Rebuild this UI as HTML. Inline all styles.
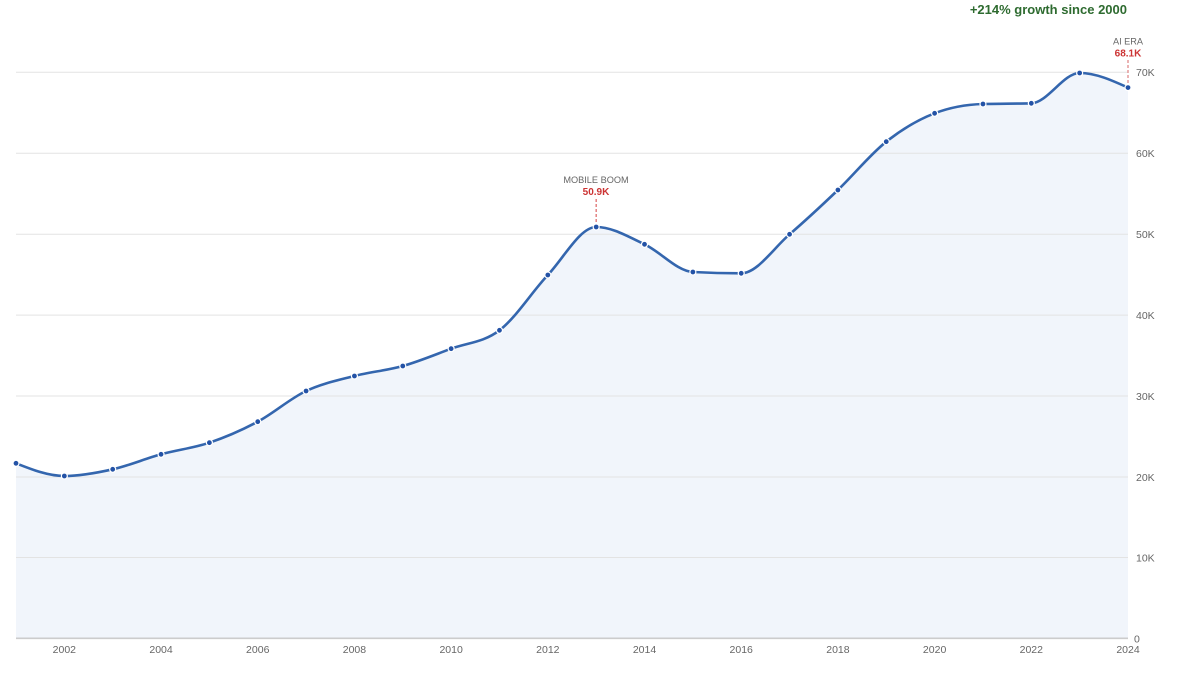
<!DOCTYPE html>
<html>
<head>
<meta charset="utf-8">
<style>
  html,body{margin:0;padding:0;background:#fff;}
  svg{display:block;}
  text{font-family:"Liberation Sans",Arial,sans-serif;}
</style>
</head>
<body>
<svg width="1200" height="675" viewBox="0 0 1200 675" xmlns="http://www.w3.org/2000/svg">
  <!-- area -->
  <path fill="#f1f5fb" d="M16,463.3 C32.12,469.65 48.23,476.0 64.35,476.0 C80.47,476.0 96.58,472.92 112.70,469.3 C128.82,465.68 144.92,458.73 161.04,454.3 C177.16,449.87 193.27,448.13 209.39,442.7 C225.51,437.27 241.62,430.32 257.74,421.7 C273.86,413.08 289.97,398.62 306.09,391.0 C322.21,383.38 338.32,380.17 354.44,376.0 C370.56,371.83 386.66,370.55 402.78,366.0 C418.90,361.45 435.01,354.65 451.13,348.7 C467.25,342.75 483.36,342.57 499.48,330.3 C515.60,318.03 531.71,292.22 547.83,275.0 C563.95,257.78 580.06,227.0 596.18,227.0 C612.30,227.0 628.40,236.8 644.52,244.3 C660.64,251.8 676.75,271.13 692.87,272.0 C708.99,272.87 725.10,273.3 741.22,273.3 C757.34,273.3 773.45,248.18 789.57,234.3 C805.69,220.42 821.80,205.43 837.92,190.0 C854.04,174.57 870.14,154.48 886.26,141.7 C902.38,128.92 918.49,119.5 934.61,113.3 C950.73,107.1 966.84,104.47 982.96,104.0 C999.08,103.53 1015.19,103.77 1031.31,103.3 C1047.43,102.83 1063.53,73.0 1079.65,73.0 C1095.77,73.0 1111.88,80.3 1128,87.6 L1128,638 L16,638 Z"/>

  <!-- gridlines -->
  <g stroke="#e3e3e3" stroke-width="1">
    <line x1="16" x2="1128" y1="72.3" y2="72.3"/>
    <line x1="16" x2="1128" y1="153.3" y2="153.3"/>
    <line x1="16" x2="1128" y1="234.2" y2="234.2"/>
    <line x1="16" x2="1128" y1="315.1" y2="315.1"/>
    <line x1="16" x2="1128" y1="396" y2="396"/>
    <line x1="16" x2="1128" y1="477" y2="477"/>
    <line x1="16" x2="1128" y1="557.5" y2="557.5"/>
  </g>
  <line x1="16" x2="1128" y1="638.3" y2="638.3" stroke="#cccccc" stroke-width="1.6"/>

  <!-- annotation dashed lines -->
  <line x1="596.18" x2="596.18" y1="199" y2="224" stroke="#e07070" stroke-width="1.3" stroke-dasharray="3,2"/>
  <line x1="1128" x2="1128" y1="60" y2="85" stroke="#e08a8a" stroke-width="1.3" stroke-dasharray="3,2"/>

  <!-- line -->
  <path fill="none" stroke="#3466ae" stroke-width="2.6" stroke-linejoin="round" stroke-linecap="round" d="M16,463.3 C32.12,469.65 48.23,476.0 64.35,476.0 C80.47,476.0 96.58,472.92 112.70,469.3 C128.82,465.68 144.92,458.73 161.04,454.3 C177.16,449.87 193.27,448.13 209.39,442.7 C225.51,437.27 241.62,430.32 257.74,421.7 C273.86,413.08 289.97,398.62 306.09,391.0 C322.21,383.38 338.32,380.17 354.44,376.0 C370.56,371.83 386.66,370.55 402.78,366.0 C418.90,361.45 435.01,354.65 451.13,348.7 C467.25,342.75 483.36,342.57 499.48,330.3 C515.60,318.03 531.71,292.22 547.83,275.0 C563.95,257.78 580.06,227.0 596.18,227.0 C612.30,227.0 628.40,236.8 644.52,244.3 C660.64,251.8 676.75,271.13 692.87,272.0 C708.99,272.87 725.10,273.3 741.22,273.3 C757.34,273.3 773.45,248.18 789.57,234.3 C805.69,220.42 821.80,205.43 837.92,190.0 C854.04,174.57 870.14,154.48 886.26,141.7 C902.38,128.92 918.49,119.5 934.61,113.3 C950.73,107.1 966.84,104.47 982.96,104.0 C999.08,103.53 1015.19,103.77 1031.31,103.3 C1047.43,102.83 1063.53,73.0 1079.65,73.0 C1095.77,73.0 1111.88,80.3 1128,87.6"/>

  <!-- dots -->
  <g fill="#2352a6" stroke="#ffffff" stroke-width="1.2">
    <circle cx="16" cy="463.3" r="3"/>
    <circle cx="64.35" cy="476.0" r="3"/>
    <circle cx="112.70" cy="469.3" r="3"/>
    <circle cx="161.04" cy="454.3" r="3"/>
    <circle cx="209.39" cy="442.7" r="3"/>
    <circle cx="257.74" cy="421.7" r="3"/>
    <circle cx="306.09" cy="391.0" r="3"/>
    <circle cx="354.44" cy="376.0" r="3"/>
    <circle cx="402.78" cy="366.0" r="3"/>
    <circle cx="451.13" cy="348.7" r="3"/>
    <circle cx="499.48" cy="330.3" r="3"/>
    <circle cx="547.83" cy="275.0" r="3"/>
    <circle cx="596.18" cy="227.0" r="3"/>
    <circle cx="644.52" cy="244.3" r="3"/>
    <circle cx="692.87" cy="272.0" r="3"/>
    <circle cx="741.22" cy="273.3" r="3"/>
    <circle cx="789.57" cy="234.3" r="3"/>
    <circle cx="837.92" cy="190.0" r="3"/>
    <circle cx="886.26" cy="141.7" r="3"/>
    <circle cx="934.61" cy="113.3" r="3"/>
    <circle cx="982.96" cy="104.0" r="3"/>
    <circle cx="1031.31" cy="103.3" r="3"/>
    <circle cx="1079.65" cy="73.0" r="3"/>
    <circle cx="1128" cy="87.6" r="3"/>
  </g>

  <!-- y axis labels -->
  <g fill="#666666" font-size="10.5">
    <text x="1136" y="76">70K</text>
    <text x="1136" y="157">60K</text>
    <text x="1136" y="238">50K</text>
    <text x="1136" y="319">40K</text>
    <text x="1136" y="400">30K</text>
    <text x="1136" y="481">20K</text>
    <text x="1136" y="561.5">10K</text>
    <text x="1134" y="642.5">0</text>
  </g>

  <!-- x axis labels -->
  <g fill="#666666" font-size="10.5" text-anchor="middle">
    <text x="64.35" y="653">2002</text>
    <text x="161.04" y="653">2004</text>
    <text x="257.74" y="653">2006</text>
    <text x="354.44" y="653">2008</text>
    <text x="451.13" y="653">2010</text>
    <text x="547.83" y="653">2012</text>
    <text x="644.52" y="653">2014</text>
    <text x="741.22" y="653">2016</text>
    <text x="837.92" y="653">2018</text>
    <text x="934.61" y="653">2020</text>
    <text x="1031.31" y="653">2022</text>
    <text x="1128" y="653">2024</text>
  </g>

  <!-- annotations -->
  <text x="596" y="183" font-size="9.2" fill="#666666" text-anchor="middle">MOBILE BOOM</text>
  <text x="596" y="195" font-size="10" font-weight="bold" fill="#cc3333" text-anchor="middle">50.9K</text>
  <text x="1128" y="44.5" font-size="9.2" fill="#666666" text-anchor="middle">AI ERA</text>
  <text x="1128" y="56.5" font-size="10" font-weight="bold" fill="#cc3333" text-anchor="middle">68.1K</text>

  <!-- title -->
  <text x="1127" y="14" font-size="13" font-weight="bold" fill="#2e6b30" text-anchor="end">+214% growth since 2000</text>
</svg>
</body>
</html>
